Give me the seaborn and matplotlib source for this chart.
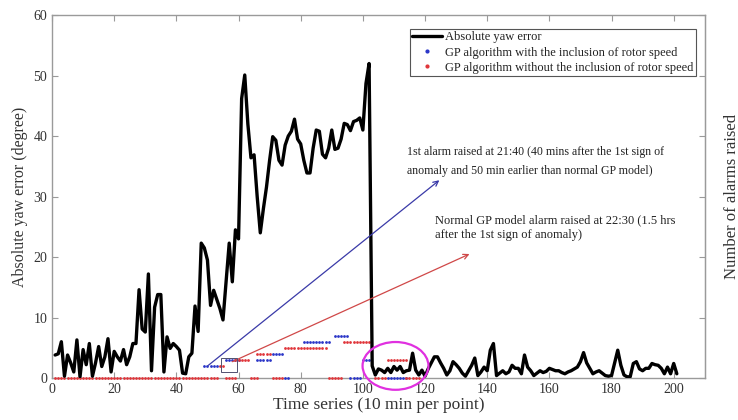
import numpy as np
import pandas as pd
import matplotlib
matplotlib.use("Agg")
import matplotlib.pyplot as plt
from matplotlib.patches import Ellipse, Rectangle
from matplotlib.lines import Line2D
import seaborn as sns

# Absolute yaw error (degree), one value per 10-minute point, t = 1..201
yaw_error = [
    3.8, 4.0, 6.0, 0.3, 3.8, 2.5, 1.0, 6.3, 0.2, 4.7,
    2.2, 5.7, 0.3, 2.5, 5.2, 1.9, 3.5, 6.5, 1.0, 4.4,
    3.5, 2.8, 4.7, 2.2, 3.5, 5.7, 5.7, 14.6, 8.1, 7.6,
    17.2, 1.2, 11.7, 13.8, 13.8, 1.0, 6.8, 4.9, 5.7, 5.2,
    4.6, 0.8, 0.7, 3.5, 4.1, 11.9, 7.7, 22.3, 21.5, 19.5,
    12.0, 14.5, 13.0, 11.5, 9.6, 16.0, 22.3, 15.9, 24.5, 23.0,
    46.2, 50.1, 42.0, 36.4, 36.9, 30.0, 24.0, 28.0, 31.6, 36.0,
    39.9, 39.3, 36.0, 35.2, 38.5, 40.0, 40.8, 42.8, 39.5, 38.7,
    36.0, 33.9, 33.9, 38.0, 41.0, 40.8, 37.0, 36.4, 38.0, 41.0,
    37.8, 38.0, 39.5, 42.1, 41.9, 40.9, 42.4, 42.6, 43.0, 41.0,
    48.7, 52.0, 2.0, 0.5, 1.5, 1.3, 0.9, 1.6, 0.9, 1.9,
    1.3, 1.9, 0.9, 1.2, 1.3, 4.1, 1.3, 0.5, 1.3, 0.3,
    1.5, 2.5, 3.5, 3.5, 2.5, 1.6, 0.5, 1.2, 2.7, 2.2,
    1.6, 0.8, 0.3, 1.2, 2.1, 3.3, 0.4, 1.0, 1.8, 1.2,
    4.6, 5.7, 0.4, 0.8, 1.2, 0.7, 1.0, 2.1, 1.6, 1.6,
    0.7, 3.8, 1.8, 1.2, 0.4, 0.8, 1.2, 0.9, 1.1, 1.6,
    1.4, 1.2, 1.2, 0.9, 0.7, 1.0, 1.2, 1.5, 1.8, 2.7,
    4.2, 2.5, 1.6, 0.7, 1.0, 1.2, 0.8, 0.4, 0.3, 0.4,
    2.5, 4.6, 2.1, 0.5, 0.2, 0.2, 2.4, 2.7, 1.5, 1.2,
    1.6, 1.6, 2.4, 2.2, 2.1, 1.6, 0.7, 1.8, 0.7, 2.4,
    0.7,
]
time_steps = list(range(1, len(yaw_error) + 1))

# Alarm runs: (first point, last point, number of alarms)
alarms_with_rotor_speed = [
    (49, 53, 2), (56, 60, 3), (66, 70, 3), (71, 74, 4), (75, 76, 0),
    (81, 89, 6), (91, 95, 7), (96, 99, 0), (100, 102, 3), (108, 114, 0),
]
alarms_without_rotor_speed = [
    (1, 53, 0), (54, 55, 2), (56, 59, 0), (59, 63, 3), (64, 66, 0),
    (66, 70, 4), (71, 74, 0), (75, 88, 5), (89, 93, 0), (94, 102, 6),
    (104, 107, 0), (108, 114, 3), (114, 118, 0),
]

x_ticks = [0, 20, 40, 60, 80, 100, 120, 140, 160, 180, 200]
y_ticks = [0, 10, 20, 30, 40, 50, 60]

legend_labels = [
    "Absolute yaw error",
    "GP algorithm with the inclusion of rotor speed",
    "GP algorithm without the inclusion of rotor speed",
]
note_early = ("1st alarm raised at 21:40 (40 mins after the 1st sign of\n"
              "anomaly and 50 min earlier than normal GP model)")
note_normal = ("Normal GP model alarm raised at 22:30 (1.5 hrs\n"
               "after the 1st sign of anomaly)")


def expand_runs(runs, name):
    rows = []
    for start, end, level in runs:
        for t in range(start, end + 1):
            rows.append({"t": t, "alarms": level, "model": name})
    return rows


blue = "#2a35c8"
red = "#e0353a"

sns.set_style("ticks")
plt.rcParams["font.family"] = ["Liberation Serif", "DejaVu Serif"]
plt.rcParams["xtick.direction"] = "in"
plt.rcParams["ytick.direction"] = "in"

fig = plt.figure(figsize=(7.38, 4.2), dpi=100)
ax = fig.add_axes([0.0705, 0.1, 0.8845, 0.864])

# right-hand axis carries only its ticks and label
ax2 = ax.twinx()
ax2.set_ylim(0, 60)
ax2.set_yticks(y_ticks)
ax2.set_yticklabels([])
ax2.tick_params(axis="y", colors="#9a9a9a", length=4, width=0.8,
                direction="in")
ax2.set_ylabel("Number of alarms raised", fontsize=12, color="#333333",
               labelpad=10)
for side, sp in ax2.spines.items():
    sp.set_visible(side == "right")
    sp.set_color("#9a9a9a")
ax.set_zorder(ax2.get_zorder() + 1)
ax.patch.set_visible(False)

alarm_df = pd.DataFrame(
    expand_runs(alarms_with_rotor_speed, "with")
    + expand_runs(alarms_without_rotor_speed, "without")
)
for name, col in (("with", blue), ("without", red)):
    sns.scatterplot(data=alarm_df[alarm_df.model == name], x="t",
                    y="alarms", color=col, s=4, marker="o", linewidth=0,
                    ax=ax, legend=False, zorder=3, clip_on=False)

yaw_df = pd.DataFrame({"t": time_steps, "err": yaw_error})
sns.lineplot(data=yaw_df, x="t", y="err", color="black", linewidth=2.4,
             ax=ax, zorder=4)

# arrows from the first alarms to their notes
ax.annotate("", xy=(124.6, 32.7), xytext=(50.3, 2.1),
            arrowprops=dict(arrowstyle="->", color="#3a3aa8", lw=0.9,
                            shrinkA=0, shrinkB=0, mutation_scale=9), zorder=5)
ax.annotate("", xy=(134.3, 20.5), xytext=(58.0, 2.7),
            arrowprops=dict(arrowstyle="->", color="#d04848", lw=0.9,
                            shrinkA=0, shrinkB=0, mutation_scale=9), zorder=5)

ax.text(114.2, 38.4, note_early, fontsize=8.6, va="top", ha="left",
        linespacing=1.75, color="#222222")
ax.text(123.2, 27.0, note_normal, fontsize=9, va="top", ha="left",
        linespacing=1.3, color="#222222")

# markers around the first alarm and the post-anomaly alarms
ax.add_patch(Rectangle((54.4, 1.0), 5.2, 2.3, fill=False,
                       edgecolor="#505070", lw=0.7, zorder=5))
ax.add_patch(Ellipse((110.5, 2.0), 21.2, 7.9, fill=False,
                     edgecolor="#e030e0", lw=1.6, clip_on=False, zorder=6))

ax.set_xlim(0, 210)
ax.set_ylim(0, 60)
ax.set_xticks(x_ticks)
ax.set_yticks(y_ticks)
ax.tick_params(axis="both", labelsize=10, colors="#9a9a9a",
               labelcolor="#333333", length=4, width=0.8,
               top=True, right=False)
ax.set_xlabel("Time series (10 min per point)", fontsize=12.5,
              color="#333333", labelpad=1)
ax.set_ylabel("Absolute yaw error (degree)", fontsize=11.5,
              color="#333333", labelpad=4)
for sp in ax.spines.values():
    sp.set_visible(True)
    sp.set_color("#9a9a9a")
    sp.set_linewidth(1.0)
    sp.set_zorder(2)

handles = [
    Line2D([], [], color="black", lw=2.4),
    Line2D([], [], color=blue, marker="o", markersize=2, lw=0),
    Line2D([], [], color=red, marker="o", markersize=2, lw=0),
]
leg = ax.legend(handles, legend_labels, loc="upper right",
                bbox_to_anchor=(0.986, 0.962), borderaxespad=0,
                fontsize=9, frameon=True, fancybox=False, framealpha=1,
                edgecolor="#555555", handlelength=2.4, handletextpad=0.2,
                borderpad=0.2, labelspacing=0.25)
leg.get_frame().set_linewidth(0.8)
leg.set_zorder(10)
for txt in leg.get_texts():
    txt.set_color("#222222")

fig.savefig("out.png", dpi=100)
